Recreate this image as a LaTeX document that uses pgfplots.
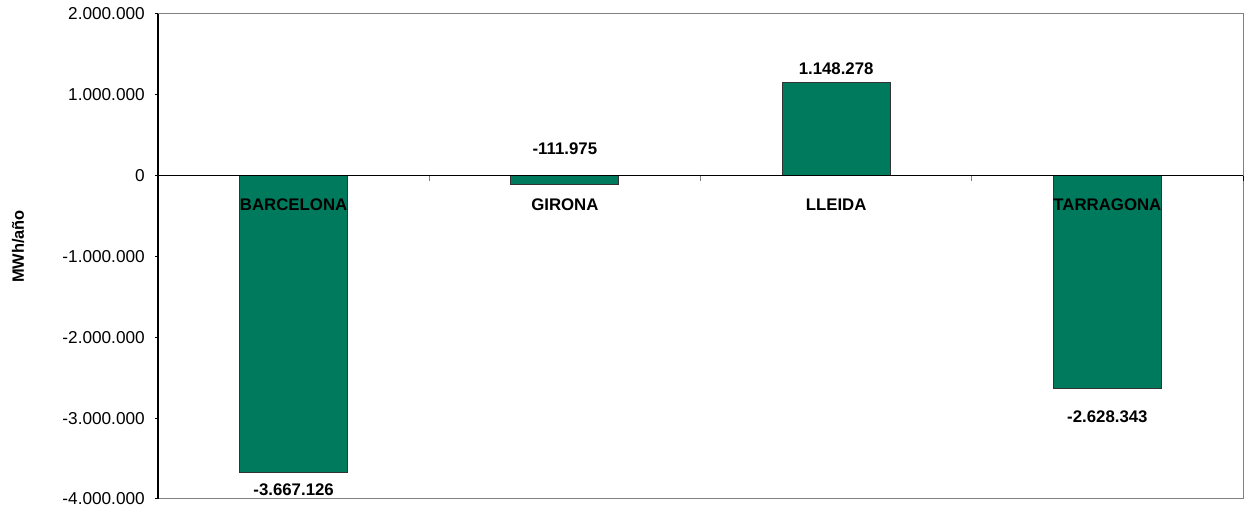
\documentclass[border=0pt]{standalone}
\usepackage{fontspec}
\setmainfont{Liberation Sans}
\usepackage{pgfplots}
\usepackage{pgfplotstable}
\pgfplotsset{compat=1.18}
\usetikzlibrary{calc}

\definecolor{barverde}{HTML}{007A5C}
\definecolor{marco}{HTML}{808080}

% x, valor, etiqueta, desplazamiento de la etiqueta (pt)
\pgfplotstableread{
x y lab off
1 -3667126 -3.667.126 -9
2 -111975 -111.975 18
3 1148278 1.148.278 7
4 -2628343 -2.628.343 -14.5
}\datos

\begin{document}
\begin{tikzpicture}
\begin{axis}[
	name=ax,
	scale only axis,
	width=542.5pt,
	height=242.5pt,
	xmin=0.5, xmax=4.5,
	ymin=-4000000, ymax=2000000,
	axis on top,
	axis line style={draw=none},
	xtick={1,2,3,4},
	xticklabels={BARCELONA,GIRONA,LLEIDA,TARRAGONA},
	xtick style={draw=none},
	xticklabel style={font=\bfseries\fontsize{8.4}{10}\selectfont, anchor=center, yshift=148.5pt},
	ytick={-4000000,-3000000,-2000000,-1000000,0,1000000,2000000},
	yticklabels={-4.000.000,-3.000.000,-2.000.000,-1.000.000,0,1.000.000,2.000.000},
	ytick pos=left,
	tick align=outside,
	major tick length=1.5pt,
	ytick style={black, line width=0.5pt},
	yticklabel style={font=\fontsize{8.6}{10}\selectfont, xshift=-1.6pt},
	/pgf/number format/assume math mode=true,
	ylabel={MWh/año},
	ylabel style={font=\bfseries\fontsize{8.2}{10}\selectfont, at={($(rel axis cs:0,0.5)+(-70pt,5pt)$)}, anchor=center},
	clip=false,
]
\addplot[ybar, bar width=54pt, fill=barverde, draw=black!80, line width=0.5pt,
	point meta=explicit symbolic,
	visualization depends on={\thisrow{off}\as\off},
	nodes near coords,
	every node near coord/.append style={font=\bfseries\fontsize{8.4}{10}\selectfont, text=black, anchor=center, yshift=\off pt},
] table[x=x, y=y, meta=lab] {\datos};

% marco: gris arriba, derecha y abajo; negro a la izquierda
\draw[marco, line width=0.5pt] (rel axis cs:0,1) -- (rel axis cs:1,1) -- (rel axis cs:1,0) -- (rel axis cs:0,0);
\draw[black, line width=0.75pt] (axis cs:0.5,0) -- (axis cs:4.5,0);
\draw[black, line width=0.8pt] (rel axis cs:0,0) -- (rel axis cs:0,1);
\draw[marco, line width=0.5pt] (axis cs:1.5,0) -- ([yshift=-2.5pt]axis cs:1.5,0);
\draw[marco, line width=0.5pt] (axis cs:2.5,0) -- ([yshift=-2.5pt]axis cs:2.5,0);
\draw[marco, line width=0.5pt] (axis cs:3.5,0) -- ([yshift=-2.5pt]axis cs:3.5,0);
\draw[black, line width=0.5pt] (axis cs:4.5,0) -- ([yshift=-2.5pt]axis cs:4.5,0);
\end{axis}
\pgfresetboundingbox
\path[use as bounding box] ($(ax.south west)+(-79pt,-5.5pt)$) rectangle ($(ax.north east)+(1pt,7pt)$);
\end{tikzpicture}
\end{document}
